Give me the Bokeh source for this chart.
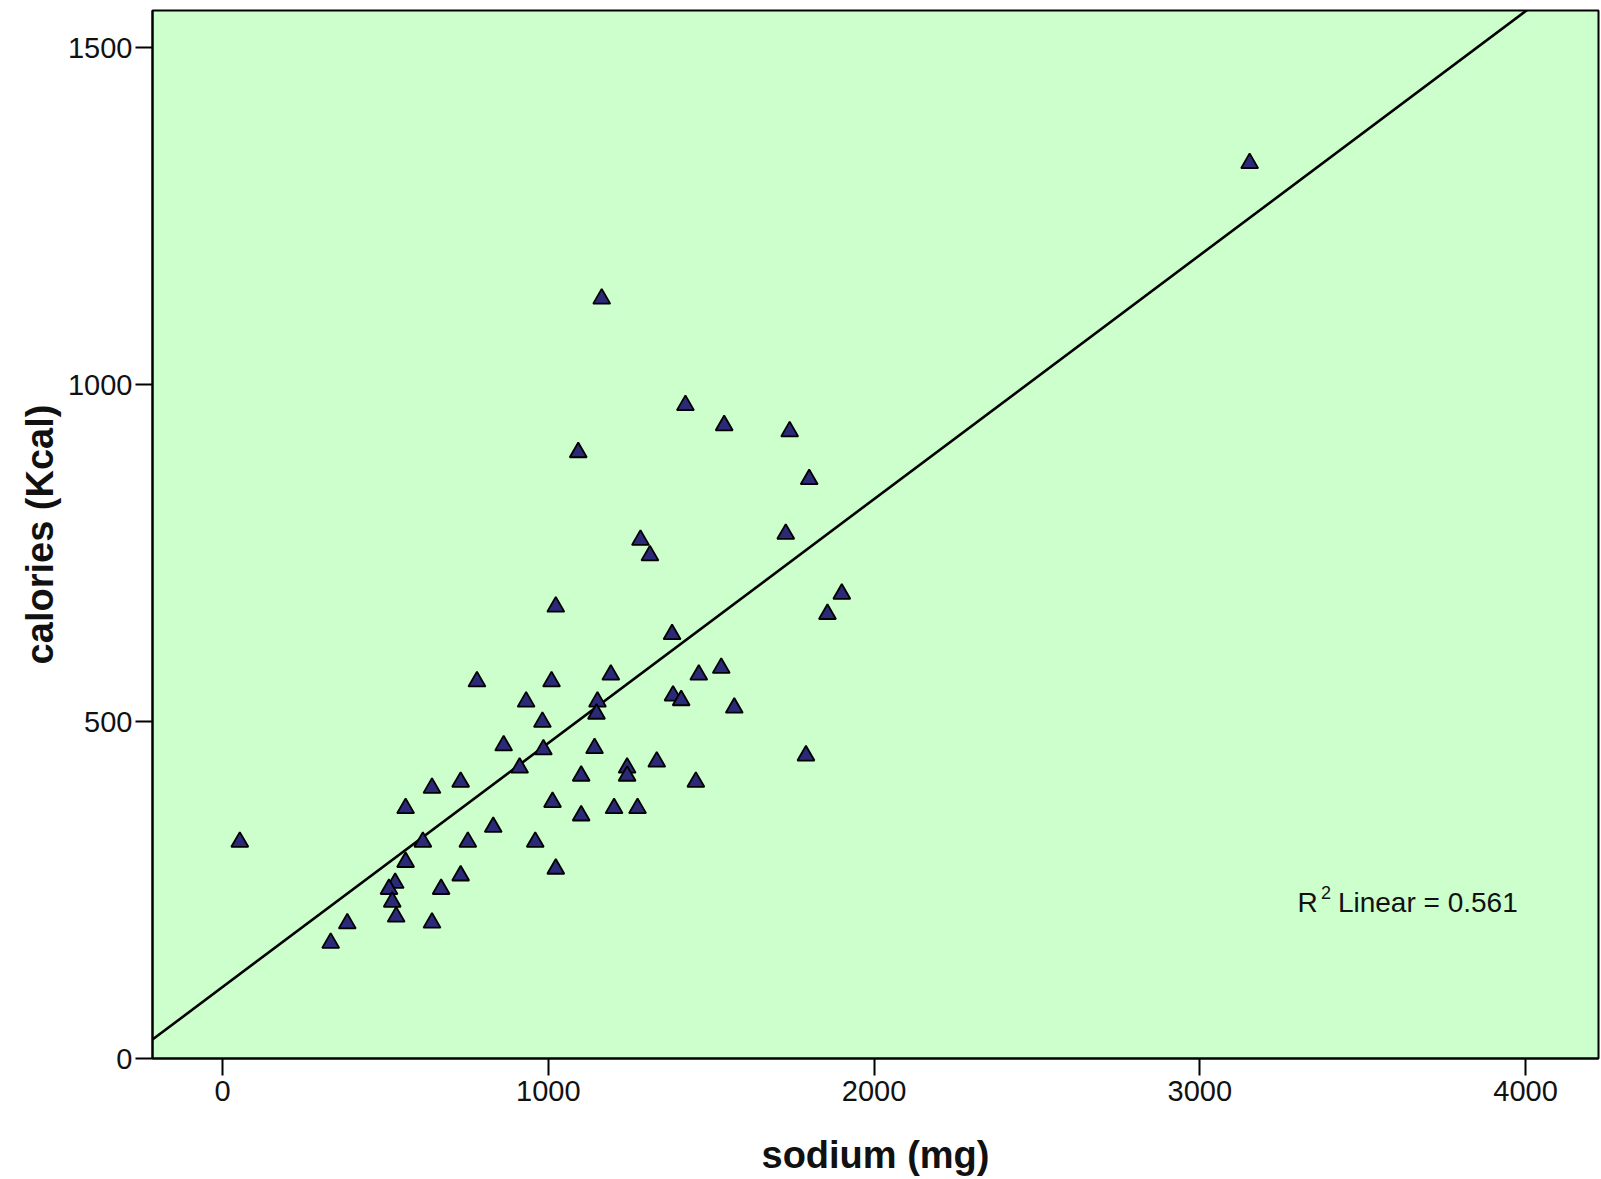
from bokeh.plotting import figure
from bokeh.models import Range1d, FixedTicker, Label, ColumnDataSource
from bokeh.transform import dodge
from bokeh.embed import file_html
from bokeh.resources import INLINE

# ---- data ----
sodium = [53, 3153, 1164, 1421, 1540, 1741, 1092, 1801, 1283, 1729,
          1312, 1023, 1901, 1857, 1380, 781, 1010, 1192, 1531, 1462,
          932, 1151, 1383, 1408, 1571, 982, 1148, 863, 1142, 985,
          912, 1242, 1333, 1791, 731, 643, 1101, 1242, 1453, 562,
          1013, 1202, 1274, 1101, 831, 615, 753, 960, 562, 1023,
          731, 671, 530, 511, 521, 533, 643, 383, 332]
calories = [325, 1332, 1131, 973, 943, 934, 903, 863, 773, 782,
            750, 674, 693, 663, 633, 563, 563, 573, 583, 573,
            533, 533, 542, 535, 524, 503, 515, 468, 464, 462,
            435, 435, 444, 453, 414, 405, 423, 423, 414, 375,
            384, 375, 375, 364, 347, 325, 325, 325, 295, 285,
            275, 255, 264, 255, 236, 214, 205, 204, 175]

fit_intercept = 106.0
fit_slope = 0.362
r2_value = 0.561

x_ticks = [0, 1000, 2000, 3000, 4000]
y_ticks = [0, 500, 1000, 1500]
x_min, x_max = -215, 4224
y_min, y_max = 0, 1555

FONT = "Liberation Sans"

p = figure(width=1601, height=1179, output_backend="svg", toolbar_location=None,
           x_range=Range1d(x_min, x_max), y_range=Range1d(y_min, y_max),
           min_border_left=152, min_border_right=3, min_border_top=10,
           min_border_bottom=121)

p.background_fill_color = "#ccffcc"
p.border_fill_color = "white"
p.outline_line_color = "black"
p.outline_line_width = 2
p.grid.visible = False

for ax in (p.xaxis[0], p.yaxis[0]):
    ax.axis_line_color = "black"
    ax.axis_line_width = 2
    ax.major_tick_line_color = "black"
    ax.major_tick_line_width = 2
    ax.major_tick_in = 0
    ax.major_tick_out = 17
    ax.minor_tick_line_color = None
    ax.major_label_text_font = FONT
    ax.major_label_text_font_size = "29px"
    ax.major_label_text_color = "#111111"
    ax.axis_label_text_font = FONT
    ax.axis_label_text_font_style = "bold"
    ax.axis_label_text_font_size = "38px"
    ax.axis_label_text_color = "#111111"

p.xaxis.ticker = FixedTicker(ticks=x_ticks)
p.yaxis.ticker = FixedTicker(ticks=y_ticks)
p.xaxis.axis_label = "sodium (mg)"
p.yaxis.axis_label = "calories (Kcal)"
p.xaxis.major_label_standoff = 5
p.yaxis.major_label_standoff = 3
p.xaxis.axis_label_standoff = 30
p.yaxis.axis_label_standoff = 4

# regression line
xl = [x_min, x_max]
yl = [fit_intercept + fit_slope * v for v in xl]
p.line(xl, yl, line_color="black", line_width=2.6)

src = ColumnDataSource(dict(x=sodium, y=calories))
p.scatter("x", dodge("y", -3.6, range=p.y_range), source=src, marker="triangle",
          size=17, fill_color="#2a2a78", line_color="black", line_width=1.8)

# R^2 annotation
p.add_layout(Label(x=3300, y=231, text="R", text_font=FONT, text_font_size="28px",
                   text_color="#111111", text_baseline="alphabetic"))
p.add_layout(Label(x=3372, y=247, text="2", text_font=FONT, text_font_size="18px",
                   text_color="#111111", text_baseline="alphabetic"))
p.add_layout(Label(x=3424, y=231, text=f"Linear = {r2_value}", text_font=FONT,
                   text_font_size="28px", text_color="#111111",
                   text_baseline="alphabetic"))

open("out.html", "w").write(file_html(p, INLINE))
